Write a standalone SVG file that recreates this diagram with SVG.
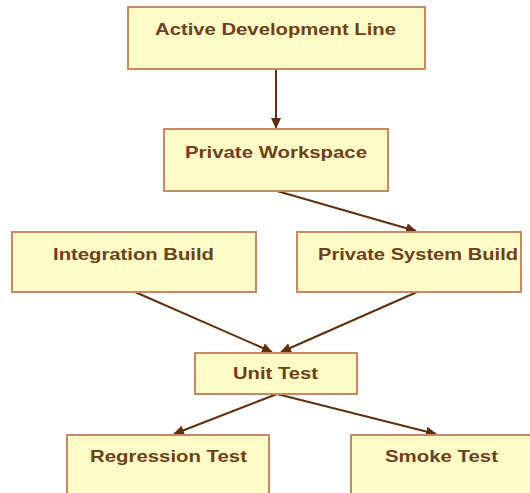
<svg xmlns="http://www.w3.org/2000/svg" width="530" height="493" viewBox="0 0 530 493">
<style>
.box{fill:#FFFBC6;stroke:#C48A62;stroke-width:2}
.lbl{font-family:"Liberation Sans",Arial,sans-serif;font-weight:bold;font-size:17px;fill:#6E3F1C;text-anchor:middle}
.edge{stroke:#5E300F;stroke-width:2;fill:none;marker-end:url(#ah)}
</style>
<defs>
<marker id="ah" markerWidth="11" markerHeight="10" refX="10" refY="5" orient="auto" markerUnits="userSpaceOnUse">
<path d="M0,0 L11,5 L0,10 Z" fill="#5E300F"/>
</marker>
</defs>
<rect width="530" height="493" fill="#ffffff"/>
<g id="connectors">
<line class="edge" x1="276" y1="70" x2="276" y2="128"/>
<line class="edge" x1="277" y1="191" x2="416" y2="231"/>
<line class="edge" x1="135" y1="292" x2="272" y2="352"/>
<line class="edge" x1="417" y1="292" x2="281" y2="352"/>
<line class="edge" x1="277" y1="394" x2="174" y2="434"/>
<line class="edge" x1="277" y1="394" x2="436" y2="434"/>
</g>
<g id="n1"><rect class="box" x="128" y="7" width="297" height="62"/><text class="lbl" x="275.5" y="35" textLength="241" lengthAdjust="spacingAndGlyphs">Active Development Line</text></g>
<g id="n2"><rect class="box" x="164" y="129" width="224" height="62"/><text class="lbl" x="276" y="158" textLength="182" lengthAdjust="spacingAndGlyphs">Private Workspace</text></g>
<g id="n3"><rect class="box" x="12" y="232" width="244" height="60"/><text class="lbl" x="133.5" y="260" textLength="161" lengthAdjust="spacingAndGlyphs">Integration Build</text></g>
<g id="n4"><rect class="box" x="297" y="232" width="224" height="60"/><text class="lbl" x="418" y="260" textLength="200" lengthAdjust="spacingAndGlyphs">Private System Build</text></g>
<g id="n5"><rect class="box" x="195" y="353" width="162" height="41"/><text class="lbl" x="275.5" y="379" textLength="85" lengthAdjust="spacingAndGlyphs">Unit Test</text></g>
<g id="n6"><rect class="box" x="67" y="435" width="202" height="62"/><text class="lbl" x="168.5" y="462" textLength="157" lengthAdjust="spacingAndGlyphs">Regression Test</text></g>
<g id="n7"><rect class="box" x="351" y="435" width="182" height="62"/><text class="lbl" x="441.5" y="462" textLength="113" lengthAdjust="spacingAndGlyphs">Smoke Test</text></g>
</svg>
